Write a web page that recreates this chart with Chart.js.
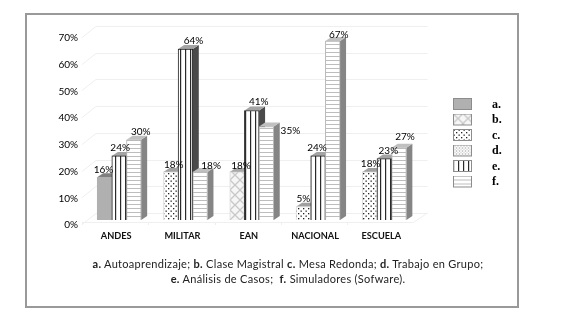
<!DOCTYPE html>
<html>
<head>
<meta charset="utf-8">
<script src="https://cdn.jsdelivr.net/npm/chart.js@4/dist/chart.umd.js"></script>
<style>
html,body{margin:0;padding:0;background:#fff;}
#wrap{position:relative;width:569px;height:317px;overflow:hidden;filter:blur(0.3px);}
canvas{position:absolute;left:0;top:0;}
#frame{position:absolute;left:25px;top:13px;width:490px;height:291px;border:2px solid #999;}
#caption{position:absolute;left:41px;width:494px;top:256px;text-align:center;font:11px/15px Lato,sans-serif;color:#222;letter-spacing:.3px;white-space:nowrap;}
</style>
</head>
<body>
<div id="wrap">
<canvas id="c" width="569" height="317"></canvas>
<div id="frame"></div>
<div id="caption"><b>a.</b> Autoaprendizaje; <b>b.</b> Clase Magistral <b>c.</b> Mesa Redonda; <b>d.</b> Trabajo en Grupo;<br><b>e.</b> Análisis de Casos; &nbsp;<b>f.</b> Simuladores (Sofware).</div>
</div>
<script>
const categories = ['ANDES','MILITAR','EAN','NACIONAL','ESCUELA'];
const legendKeys = ['a.','b.','c.','d.','e.','f.'];
const seriesNames = ['Autoaprendizaje','Clase Magistral','Mesa Redonda','Trabajo en Grupo','Análisis de Casos','Simuladores (Sofware)'];
const seriesA = [16,null,null,null,null];
const seriesB = [null,null,18,null,null];
const seriesC = [null,18,null,5,18];
const seriesD = [null,null,null,null,null];
const seriesE = [24,64,41,24,23];
const seriesF = [30,18,35,67,27];
const yTicks = [0,10,20,30,40,50,60,70];

/* label nudges in px relative to the bar front top: series index -> category index -> [dx, dy] */
const labelNudges = {
  0:{0:[-1,-7]},
  1:{2:[4,-6]},
  2:{1:[3,-7],3:[0,-8],4:[1,-8]},
  4:{0:[1,-8],1:[8,-8],2:[7,-9],3:[-1,-8],4:[4,-8]},
  5:{0:[7,-8],1:[11,-6],2:[24,4],3:[6,-6],4:[6,-11]}
};
const SLOT = 14.67, DX = 6, DY = 4;

function tile(w,h,paint){
  const t=document.createElement('canvas');t.width=w;t.height=h;
  const g=t.getContext('2d');g.fillStyle='#fff';g.fillRect(0,0,w,h);paint(g);return t;
}
const tiles = [
  tile(4,4,g=>{g.fillStyle='#b0b0b0';g.fillRect(0,0,4,4);}),
  tile(10,10,g=>{g.fillStyle='#f6f6f6';g.fillRect(0,0,10,10);g.strokeStyle='#c8c8c8';g.lineWidth=1.3;g.beginPath();g.moveTo(0,0);g.lineTo(10,10);g.moveTo(10,0);g.lineTo(0,10);g.stroke();}),
  tile(5,5,g=>{g.fillStyle='#222';g.fillRect(.5,.5,1.3,1.3);g.fillRect(3,3,1.3,1.3);}),
  tile(3,3,g=>{g.fillStyle='#999';g.fillRect(0,0,1,1);g.fillRect(1.5,1.5,1,1);}),
  tile(5,4,g=>{g.fillStyle='#2a2a2a';g.fillRect(0,0,1,4);g.fillStyle='#aaa';g.fillRect(1,0,.5,4);}),
  tile(4,4,g=>{g.fillStyle='#bdbdbd';g.fillRect(0,0,4,1);})
];
const ctx0=document.getElementById('c').getContext('2d');
const patterns = tiles.map(t=>ctx0.createPattern(t,'repeat'));
const topColors = ['#7f7f7f','#a8a8a8','#a0a0a0','#a0a0a0','#a4a4a4','#c0c0c0'];
const sideColors = ['#808080','#909090','#808080','#808080','#4a4a4a','#858585'];
const borderColors = ['#b0b0b0','#d8d8d8','#ddd','#ccc','#222','#b5b5b5'];

function swatch(i){
  const s=document.createElement('canvas');s.width=33;s.height=13;
  const g=s.getContext('2d');
  g.fillStyle=g.createPattern(tiles[i],'repeat');g.fillRect(0,0,18,12);
  g.strokeStyle='#8c8c8c';g.lineWidth=1;g.strokeRect(.5,.5,18,11);
  return s;
}

const allSeries=[seriesA,seriesB,seriesC,seriesD,seriesE,seriesF];
const depth3d={
  id:'depth3d',
  afterDatasetsUpdate(chart){
    const xs=chart.scales.x;
    categories.forEach((_,j)=>{
      const present=allSeries.map((s,i)=>s[j]!=null?i:-1).filter(i=>i>=0);
      present.forEach((i,rank)=>{
        const el=chart.getDatasetMeta(i).data[j];
        el.x=xs.getPixelForValue(j)+(rank-(present.length-1)/2)*SLOT;
      });
    });
  },
  beforeDatasetsDraw(chart){
    const g=chart.ctx,ys=chart.scales.y,a=chart.chartArea;
    g.save();g.strokeStyle='#efefef';g.lineWidth=1;
    yTicks.forEach(v=>{
      const y=Math.round(ys.getPixelForValue(v))+.5;
      g.beginPath();g.moveTo(a.left-4,y+4);g.lineTo(a.left+10,y-7);g.lineTo(a.right+10,y-7);g.stroke();
    });
    const by=ys.getPixelForValue(0);
    g.beginPath();g.moveTo(a.left-4,by+2.5);g.lineTo(a.right-4,by+2.5);g.lineTo(a.right+10,by-7);g.stroke();
    categories.forEach((_,j)=>{
      const x=Math.round(a.left+(a.right-a.left)*j/categories.length)-4+.5;
      g.beginPath();g.moveTo(x,by+2);g.lineTo(x,by+5);g.stroke();
    });
    g.restore();
  },
  beforeDatasetDraw(chart,args){
    const g=chart.ctx,i=args.index;
    chart.getDatasetMeta(i).data.forEach((el,j)=>{
      if(allSeries[i][j]==null)return;
      const l=el.x-el.width/2,r=el.x+el.width/2;
      g.save();
      g.fillStyle=sideColors[i];
      g.beginPath();g.moveTo(r,el.y);g.lineTo(r+DX,el.y-DY);g.lineTo(r+DX,el.base-DY);g.lineTo(r,el.base);g.closePath();g.fill();
      g.fillStyle=topColors[i];
      g.beginPath();g.moveTo(l,el.y);g.lineTo(l+DX,el.y-DY);g.lineTo(r+DX,el.y-DY);g.lineTo(r,el.y);g.closePath();g.fill();
      g.restore();
    });
  },
  afterDatasetsDraw(chart){
    const g=chart.ctx;
    g.save();g.font='10px Lato, sans-serif';g.fillStyle='#000';g.textAlign='center';g.textBaseline='middle';
    allSeries.forEach((s,i)=>{
      chart.getDatasetMeta(i).data.forEach((el,j)=>{
        if(s[j]==null)return;
        const n=(labelNudges[i]&&labelNudges[i][j])||[0,-8];
        g.fillText(s[j]+'%',el.x+n[0],el.y+n[1]);
      });
    });
    g.restore();
  },
  afterLayout(chart){
    const l=chart.legend;
    const w=l.right-l.left,h=l.bottom-l.top;
    l.left=449.5;l.right=l.left+w;l.top=95;l.bottom=l.top+h;
  }
};

new Chart(document.getElementById('c'),{
  type:'bar',
  data:{
    labels:categories,
    datasets:allSeries.map((s,i)=>({
      label:seriesNames[i],data:s,order:allSeries.length-i,
      backgroundColor:patterns[i],borderColor:borderColors[i],borderWidth:1
    }))
  },
  plugins:[depth3d],
  options:{
    responsive:false,animation:false,
    layout:{padding:{left:0,top:33,right:151.5,bottom:67}},
    datasets:{bar:{grouped:false,barThickness:14.67}},
    scales:{
      x:{
        grid:{display:false,drawTicks:false},border:{display:false},
        afterFit(s){s.height=30;},
        ticks:{padding:11,labelOffset:-3,maxRotation:0,autoSkip:false,color:'#111',font:{family:'Lato, sans-serif',size:9.2,weight:'bold'}}
      },
      y:{
        min:0,max:70,
        grid:{display:false,drawTicks:false},border:{display:false},
        afterFit(s){s.width=86;},
        afterBuildTicks(s){s.ticks=yTicks.map(v=>({value:v}));},
        ticks:{padding:8,labelOffset:5,color:'#000',font:{family:'Lato, sans-serif',size:10},callback:v=>v+'%'}
      }
    },
    plugins:{
      tooltip:{enabled:false},
      legend:{
        position:'chartArea',align:'start',
        labels:{
          usePointStyle:true,pointStyleWidth:33,boxHeight:12,padding:3.5,color:'#111',
          font:{family:'"Liberation Sans Narrow", "Liberation Serif", serif',size:12,weight:'bold'},
          generateLabels:()=>legendKeys.map((k,i)=>({text:k,pointStyle:swatch(i),hidden:false,datasetIndex:i,lineWidth:0}))
        }
      }
    }
  }
});
</script>
</body>
</html>
